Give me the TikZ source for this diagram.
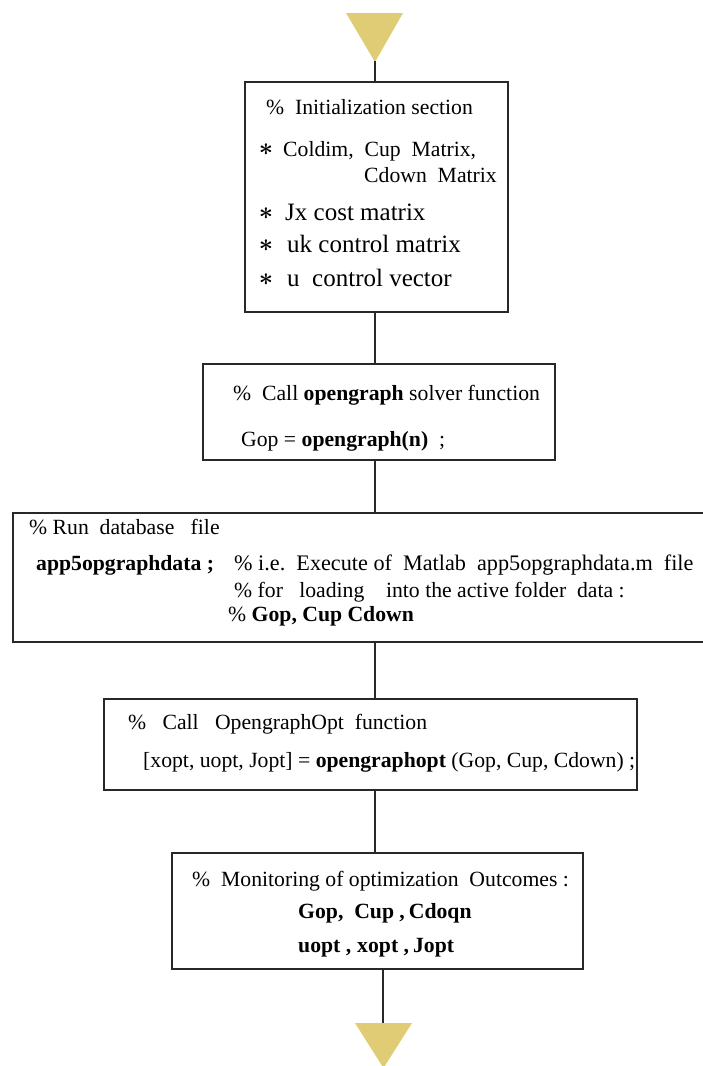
\documentclass[tikz,border=0pt]{standalone}
\usepackage{fontspec}
\setmainfont{Liberation Serif}
\definecolor{flowgold}{RGB}{224,204,116}
\definecolor{edgegray}{RGB}{40,40,40}
\tikzset{
  stepbox/.style={draw=edgegray, line width=1.4pt, fill=white, inner sep=0pt},
  txt/.style={anchor=base west, inner sep=0pt, font=\fontsize{21.7}{26}\selectfont},
  widetxt/.style={anchor=base west, inner sep=0pt, font=\fontsize{22.2}{26}\selectfont},
  bigtxt/.style={anchor=base west, inner sep=0pt, font=\fontsize{25}{29}\selectfont},
  bullet/.style={anchor=center, inner sep=0pt, font=\fontsize{32}{32}\selectfont\boldmath},
  link/.style={draw=edgegray, line width=1.3pt},
  marker/.style={fill=flowgold, draw=none},
}
\begin{document}
\begin{tikzpicture}[x=1pt,y=-1pt]
\useasboundingbox (0,0) rectangle (702,1066);

% entry and exit markers
\fill[marker] (346,13) -- (403,13) -- (375,62) -- cycle;
\coordinate (entry) at (375,61);
\fill[marker] (355,1023) -- (412,1023) -- (383.5,1068) -- cycle;
\coordinate (exit) at (383,1023);

% process boxes
\node[stepbox, minimum width=263, minimum height=230] (init) at (376.5,197) {};
\node[stepbox, minimum width=352, minimum height=96]  (solve) at (379,412) {};
\node[stepbox, minimum width=699, minimum height=129] (data) at (362.5,577.5) {};
\node[stepbox, minimum width=533, minimum height=91]  (opt) at (370.5,744.5) {};
\node[stepbox, minimum width=411, minimum height=116] (mon) at (377.5,911) {};

% connectors
\coordinate (spine) at (375,0);
\draw[link] (entry) -- (entry |- init.north);
\draw[link] (spine |- init.south) -- (spine |- solve.north);
\draw[link] (spine |- solve.south) -- (spine |- data.north);
\draw[link] (spine |- data.south) -- (spine |- opt.north);
\draw[link] (spine |- opt.south) -- (spine |- mon.north);
\draw[link] (exit |- mon.south) -- (exit);

% initialization section
\node[txt] (i1) at (266,114) {\%\ \ Initialization section};
\node[bullet] (i2s) at (266,150) {$\ast$};
\node[txt] (i2) at (283,156) {Coldim,\ \ Cup\ \ Matrix,};
\node[txt] (i3) at (364,182) {Cdown\ \ Matrix};
\node[bullet] (i4s) at (266,214) {$\ast$};
\node[bigtxt] (i4) at (285,220) {Jx cost matrix};
\node[bullet] (i5s) at (266,246) {$\ast$};
\node[bigtxt] (i5) at (287,252) {uk control matrix};
\node[bullet] (i6s) at (266,280) {$\ast$};
\node[bigtxt] (i6) at (287,286) {u\ \ control vector};

% solver call
\node[txt] (s1) at (233,400) {\%\ \ Call \textbf{opengraph} solver function};
\node[txt] (s2) at (241,446) {Gop = \textbf{opengraph(n)}\ \ ;};

% database file
\node[txt] (d1) at (29,534) {\% Run\ \ database\ \ \ file};
\node[txt] (d2) at (36,570) {\textbf{app5opgraphdata ;}};
\node[widetxt] (d2b) at (234,570) {\% i.e.\ \ Execute of\ \ Matlab\ \ app5opgraphdata.m\ \ file};
\node[txt] (d3) at (234,597) {\% for\ \ \ loading\ \ \ \ into the active folder\ \ data :};
\node[txt] (d4) at (228,621) {\% \textbf{Gop, Cup Cdown}};

% optimisation call
\node[txt] (o1) at (128,729) {\%\ \ \ Call\ \ \ OpengraphOpt\ \ function};
\node[txt] (o2) at (143,767) {[xopt, uopt, Jopt] =\ \textbf{opengraphopt} (Gop, Cup, Cdown) ;};

% monitoring of outcomes
\node[txt] (m1) at (192,886) {\%\ \ Monitoring of optimization\ \ Outcomes :};
\node[txt] (m2) at (298,918) {\textbf{Gop,\ \ Cup ,\hspace{4pt}Cdoqn}};
\node[txt] (m3) at (298,952) {\textbf{uopt ,\hspace{6pt}xopt ,\hspace{4pt}Jopt}};
\end{tikzpicture}
\end{document}
